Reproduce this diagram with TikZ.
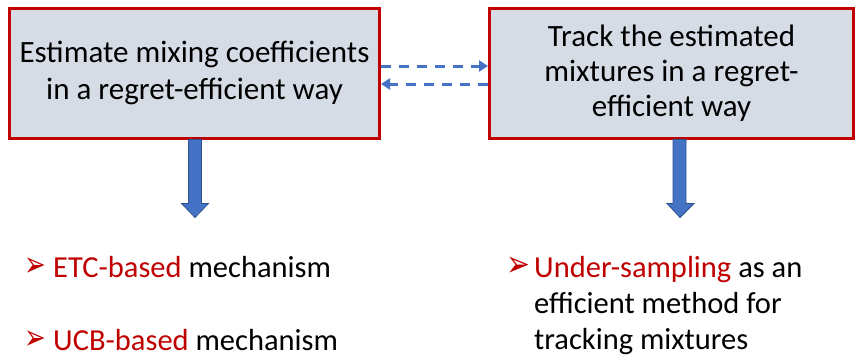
\documentclass[tikz,border=0pt]{standalone}
\usepackage{fontspec}
\setmainfont{Carlito}
\newfontfamily\symfont{DejaVu Sans}
\usetikzlibrary{arrows.meta}

\definecolor{boxred}{HTML}{C00000}
\definecolor{boxfill}{HTML}{D6DCE5}
\definecolor{arrblue}{HTML}{4472C4}
\definecolor{arrdark}{HTML}{2F528F}

\begin{document}
\begin{tikzpicture}[x=1pt, y=-1pt,
    box/.style={draw=boxred, line width=3pt, fill=boxfill, align=center,
        minimum height=130pt, font=\fontsize{31}{37}\selectfont},
    linkarr/.style={arrblue, line width=3pt, dash pattern=on 10pt off 8pt,
        -{Triangle[length=9pt, width=11pt]}},
    blockarr/.style={fill=arrblue, draw=arrdark, line width=0.8pt},
    item/.style={anchor=base west, inner sep=0pt, font=\fontsize{30.5}{36}\selectfont},
    bulletmark/.style={anchor=base west, inner sep=0pt, text=boxred, font=\symfont\fontsize{26}{30}\selectfont}]
    \useasboundingbox (0,0) rectangle (857,357);

    % Boxes
    \node[box, minimum width=370pt] (est) at (194.5,73)
        {Estimate mixing coefficients\\in a regret-efficient way};
    \node[box, minimum width=364pt] (trk) at (671.5,73)
        {Track the estimated\\[-2pt]mixtures in a regret-\\[-2pt]efficient way};

    % Dashed links between the boxes
    \draw[linkarr] ([yshift=7pt]est.east) -- ([yshift=7pt]trk.west);
    \draw[linkarr] ([yshift=-11pt]trk.west) -- ([yshift=-11pt]est.east);

    % Block arrows
    \draw[blockarr] ([xshift=-6pt]est.south) -- ++(0,64) -- ++(-7,0)
        -- ([xshift=0.5pt, yshift=-78pt]est.south) -- ++(13.5,-14) -- ++(-7,0)
        -- ([xshift=7pt]est.south) -- cycle;
    \draw[blockarr] ([xshift=1.5pt]trk.south) -- ++(0,64) -- ++(-6,0)
        -- ([xshift=8.5pt, yshift=-78pt]trk.south) -- ++(14,-14) -- ++(-8,0)
        -- ([xshift=14.5pt]trk.south) -- cycle;

    % Left list
    \node[bulletmark] (m1) at (24,276) {\scalebox{1}[1.35]{➢}};
    \node[item] (t1) at (53,277) {\textcolor{boxred}{ETC-based} mechanism};
    \node[bulletmark] (m2) at (24,349) {\scalebox{1}[1.35]{➢}};
    \node[item] (t2) at (53,350) {\textcolor{boxred}{UCB-based} mechanism};

    % Right list
    \node[bulletmark] (m3) at (506,276) {\scalebox{1.1}[1.4]{➢}};
    \node[item] (t3) at (534,277) {\textcolor{boxred}{Under-sampling} as an};
    \node[item] (t4) at (534,313) {efficient method for};
    \node[item] (t5) at (534,349) {tracking mixtures};
\end{tikzpicture}
\end{document}
